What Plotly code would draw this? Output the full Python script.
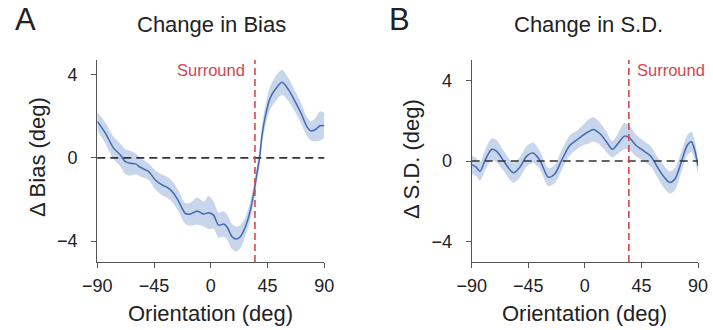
import plotly.graph_objects as go

# ---------------- data ----------------
bias_x = [-90, -83.6, -77.1, -71.7, -67.8, -63.8, -59.7, -55.9, -49.3, -44, -38.7, -33.4,
          -29.5, -25.4, -20.2, -16.2, -10.9, -5.6, -1.7, 2.2, 6.2, 10.2, 12.8, 16.9, 20.3,
          23.4, 27.4, 31.4, 34.5, 36.6, 38.7, 40.5, 43.2, 47.1, 51, 56.4, 61.6, 66.8, 72.1,
          76.1, 79.2, 82.7, 86.6, 90]
bias_mean = [1.75, 1.19, 0.47, 0.14, -0.18, -0.26, -0.29, -0.45, -0.66, -1.06, -1.30, -1.46,
             -1.70, -2.10, -2.67, -2.70, -2.55, -2.70, -2.63, -2.75, -3.23, -3.18, -3.31,
             -3.79, -3.90, -3.79, -3.31, -2.51, -1.54, -0.74, 0.01, 1.03, 1.99, 2.88, 3.28,
             3.63, 3.28, 2.71, 2.07, 1.51, 1.30, 1.35, 1.54, 1.56]
bias_err = [0.45, 0.5, 0.55, 0.55, 0.6, 0.6, 0.5, 0.45, 0.4, 0.45, 0.5, 0.5,
            0.5, 0.5, 0.5, 0.55, 0.65, 0.6, 0.8, 0.65, 0.6, 0.6, 0.6,
            0.6, 0.6, 0.55, 0.45, 0.45, 0.4, 0.4, 0.4, 0.45, 0.5, 0.55, 0.6,
            0.6, 0.55, 0.5, 0.5, 0.45, 0.45, 0.55, 0.7, 0.6]

sd_x = [-90, -86.5, -83.4, -79.4, -74.2, -70.1, -64.9, -56.9, -51.6, -46.4, -41.1, -35.7,
        -29.1, -23.8, -18.5, -11.9, -6.6, -1.3, 2.6, 6.6, 11.9, 17.2, 21.9, 26.3, 31.4,
        35.3, 40.6, 47.2, 52.5, 57.7, 63.1, 67.5, 71.8, 77.1, 81.5, 84.8, 87.4, 90]
sd_mean = [-0.18, -0.30, -0.51, 0.03, 0.57, 0.48, 0.03, -0.58, -0.30, 0.23, 0.40, 0.03,
           -0.80, -0.63, 0.03, 0.78, 1.03, 1.28, 1.44, 1.56, 1.36, 0.95, 0.58, 0.86, 1.23,
           1.16, 0.78, 0.48, 0.23, -0.30, -0.80, -1.06, -0.88, 0.03, 0.78, 0.95, 0.53, -0.25]
sd_err = [0.45, 0.45, 0.45, 0.5, 0.55, 0.55, 0.5, 0.5, 0.5, 0.5, 0.5, 0.45,
          0.45, 0.45, 0.5, 0.5, 0.45, 0.5, 0.6, 0.6, 0.55, 0.5, 0.4, 0.5, 0.65,
          0.6, 0.55, 0.5, 0.5, 0.5, 0.55, 0.55, 0.55, 0.5, 0.5, 0.5, 0.45, 0.4]

surround = 35
x_ticks = [-90, -45, 0, 45, 90]
y_ticks = [-4, 0, 4]

# ---------------- styling ----------------
W, H = 713, 330
FONT = "Liberation Sans, Arial, Helvetica, sans-serif"
LINE_BLUE = "#4369b3"
BAND = "rgba(176,196,226,0.7)"
RED = "#d2474f"
AX = "#555555"
TXT = "#222222"

def px(x):
    return x / W

def py(y):
    return 1 - y / H

fig = go.Figure()

panels = [
    (bias_x, bias_mean, bias_err, "x", "y"),
    (sd_x, sd_mean, sd_err, "x2", "y2"),
]
for xs, m, e, xa, ya in panels:
    upper = [a + b for a, b in zip(m, e)]
    lower = [a - b for a, b in zip(m, e)]
    fig.add_trace(go.Scatter(x=xs, y=upper, mode="lines", line=dict(width=0, shape="spline", smoothing=0.8),
                             hoverinfo="skip", showlegend=False, xaxis=xa, yaxis=ya))
    fig.add_trace(go.Scatter(x=xs, y=lower, mode="lines", line=dict(width=0, shape="spline", smoothing=0.8),
                             fill="tonexty", fillcolor=BAND, hoverinfo="skip", showlegend=False,
                             xaxis=xa, yaxis=ya))
    fig.add_trace(go.Scatter(x=xs, y=m, mode="lines",
                             line=dict(color=LINE_BLUE, width=1.5, shape="spline", smoothing=0.8),
                             showlegend=False, xaxis=xa, yaxis=ya))

axis_common = dict(showline=True, linecolor=AX, linewidth=1.3, ticks="outside", ticklen=5,
                   tickcolor=AX, tickwidth=1.3, showgrid=False, zeroline=False, automargin=False,
                   tickfont=dict(family=FONT, size=18, color=TXT))

fig.update_layout(
    width=W, height=H, margin=dict(l=0, r=0, t=0, b=0, pad=0, autoexpand=False),
    paper_bgcolor="white", plot_bgcolor="white",
    font=dict(family=FONT, color=TXT),
    xaxis=dict(domain=[px(97.3), px(324.3)], range=[-90, 90], tickvals=x_ticks,
               anchor="y", ticklabelstandoff=2, **axis_common),
    yaxis=dict(domain=[py(262), py(60)], range=[-5, 4.7], tickvals=y_ticks,
               anchor="x", ticklabelstandoff=10, **axis_common),
    xaxis2=dict(domain=[px(471.7), px(698)], range=[-90, 90], tickvals=x_ticks,
                anchor="y2", ticklabelstandoff=2, **axis_common),
    yaxis2=dict(domain=[py(262), py(60)], range=[-5, 5], tickvals=y_ticks,
                anchor="x2", ticklabelstandoff=10, **axis_common),
)

# reference lines
for xr, yr in [("x", "y"), ("x2", "y2")]:
    fig.add_shape(type="line", xref=f"{xr} domain", yref=yr, x0=0, x1=1, y0=0, y1=0,
                  line=dict(color="#333333", width=1.6, dash="8px,5px"))
    fig.add_shape(type="line", xref=xr, yref=f"{yr} domain", x0=surround, x1=surround, y0=0, y1=1,
                  line=dict(color=RED, width=1.6, dash="7px,4px"))

ann = []
# Surround labels
ann.append(dict(x=surround, xref="x", y=py(70), yref="paper", text="Surround", showarrow=False,
                xanchor="right", yanchor="middle", xshift=-8,
                font=dict(family=FONT, size=16.5, color=RED)))
ann.append(dict(x=surround, xref="x2", y=py(70), yref="paper", text="Surround", showarrow=False,
                xanchor="left", yanchor="middle", xshift=6,
                font=dict(family=FONT, size=16.5, color=RED)))
# panel letters
ann.append(dict(x=px(13), y=py(20), xref="paper", yref="paper", text="A", showarrow=False,
                xanchor="left", yanchor="middle", font=dict(family=FONT, size=31, color=TXT)))
ann.append(dict(x=px(387), y=py(20), xref="paper", yref="paper", text="B", showarrow=False,
                xanchor="left", yanchor="middle", font=dict(family=FONT, size=31, color=TXT)))
# panel titles
ann.append(dict(x=px(211), y=py(24), xref="paper", yref="paper", text="Change in Bias", showarrow=False,
                xanchor="center", yanchor="middle", font=dict(family=FONT, size=22, color=TXT)))
ann.append(dict(x=px(588), y=py(24), xref="paper", yref="paper", text="Change in S.D.", showarrow=False,
                xanchor="center", yanchor="middle", font=dict(family=FONT, size=22, color=TXT)))
# axis titles
for cx in [210.8, 584.9]:
    ann.append(dict(x=px(cx), y=py(313), xref="paper", yref="paper", text="Orientation (deg)",
                    showarrow=False, xanchor="center", yanchor="middle",
                    font=dict(family=FONT, size=22, color=TXT)))
ann.append(dict(x=px(37), y=py(157), xref="paper", yref="paper", text="Δ Bias (deg)", textangle=-90,
                showarrow=False, xanchor="center", yanchor="middle", font=dict(family=FONT, size=22, color=TXT)))
ann.append(dict(x=px(411), y=py(159), xref="paper", yref="paper", text="Δ S.D. (deg)", textangle=-90,
                showarrow=False, xanchor="center", yanchor="middle", font=dict(family=FONT, size=22, color=TXT)))
fig.update_layout(annotations=ann)

fig.write_html("out.html")
